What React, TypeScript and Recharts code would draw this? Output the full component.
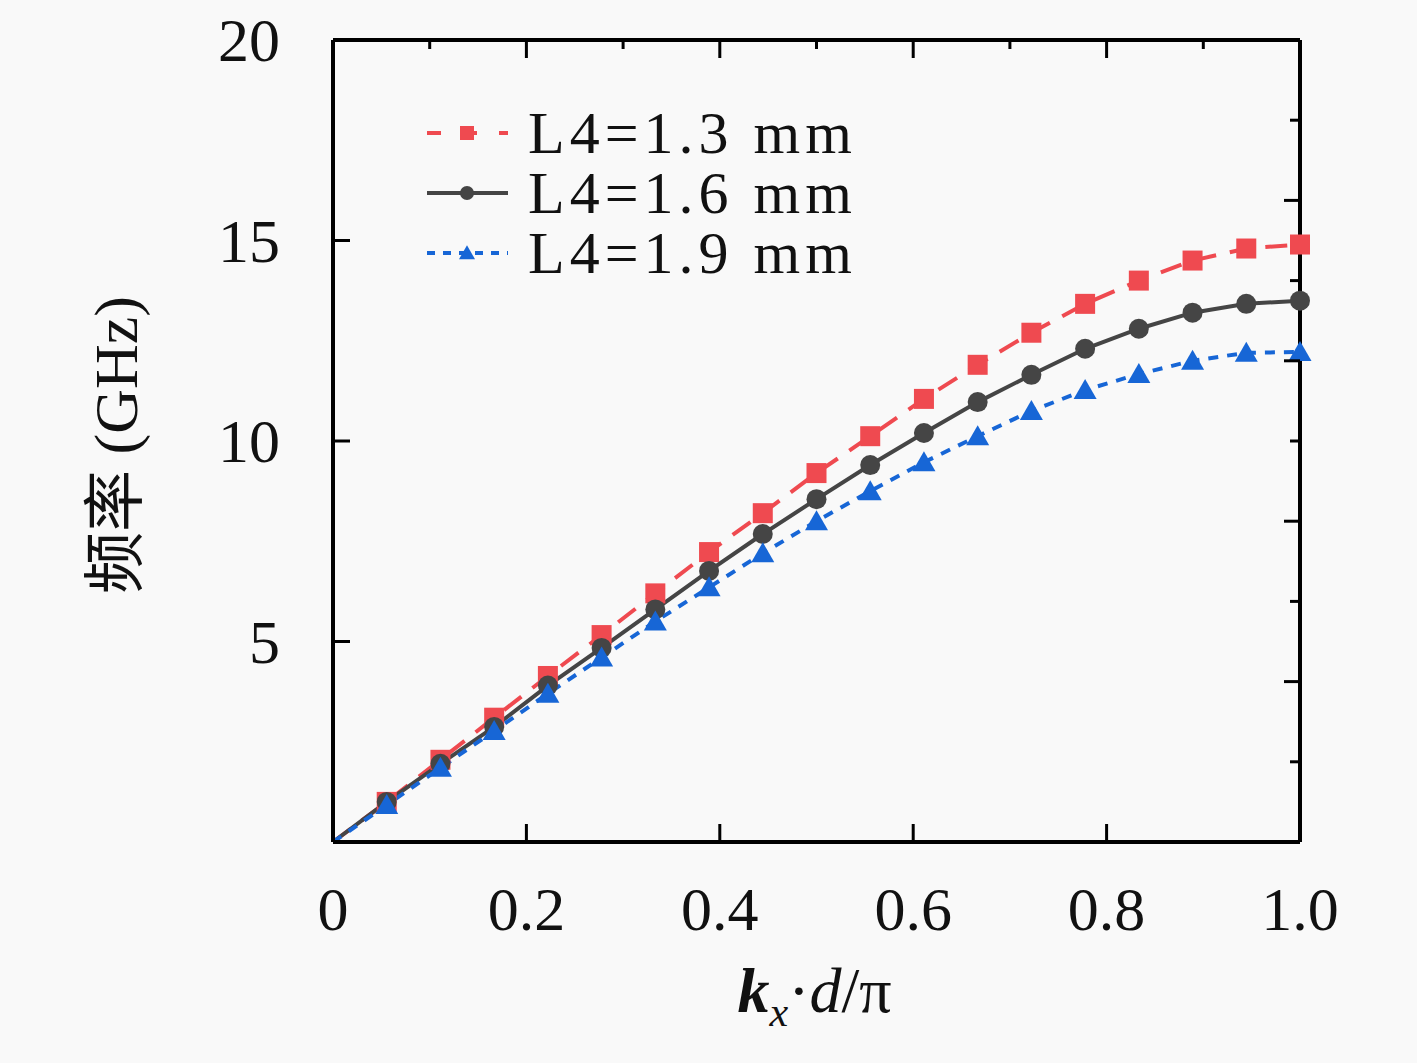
import { Line, LineChart, XAxis, YAxis } from "recharts";

// k_x d / pi sampled at 1/18 steps
const kx = [0, 1, 2, 3, 4, 5, 6, 7, 8, 9, 10, 11, 12, 13, 14, 15, 16, 17, 18].map((i) => i / 18);

const l13 = [0, 1.0, 2.05, 3.1, 4.14, 5.16, 6.2, 7.23, 8.2, 9.2, 10.12, 11.05, 11.9, 12.7, 13.42, 14.0, 14.5, 14.8, 14.9];
const l16 = [0, 1.0, 1.95, 2.87, 3.9, 4.84, 5.8, 6.76, 7.68, 8.55, 9.4, 10.2, 10.97, 11.65, 12.3, 12.8, 13.2, 13.42, 13.5];
const l19 = [0, 0.92, 1.85, 2.77, 3.7, 4.6, 5.5, 6.35, 7.2, 8.0, 8.75, 9.47, 10.12, 10.75, 11.27, 11.67, 12.0, 12.2, 12.22];

const xTicks = [0, 0.2, 0.4, 0.6, 0.8, 1.0];
const xTopTicks = [0.1, 0.2, 0.3, 0.4, 0.5, 0.6, 0.7, 0.8, 0.9];
const yTicks = [0, 5, 10, 15, 20];
const yRightTicks = [2, 4, 6, 8, 10, 12, 14, 16, 18];

const data = kx.map((x, i) => ({ x, a: l13[i], b: l16[i], c: l19[i] }));

const RED = "#ef4a50";
const GREY = "#454545";
const BLUE = "#1766d6";
const SERIF = "'Liberation Serif', 'DejaVu Serif', serif";

const series = [
  { key: "a", name: "L4=1.3 mm", color: RED, dash: "22 14", shape: "square" },
  { key: "b", name: "L4=1.6 mm", color: GREY, dash: undefined, shape: "circle" },
  { key: "c", name: "L4=1.9 mm", color: BLUE, dash: "10 9", shape: "triangle" },
];

const Marker = ({ shape, cx, cy, color, s }: any) => {
  if (shape === "square") return <rect x={cx - s} y={cy - s} width={s * 2} height={s * 2} fill={color} />;
  if (shape === "circle") return <circle cx={cx} cy={cy} r={s} fill={color} />;
  return <polygon points={`${cx},${cy - s * 1.1} ${cx - s * 1.15},${cy + s * 0.9} ${cx + s * 1.15},${cy + s * 0.9}`} fill={color} />;
};

const makeDot = (shape: string, color: string) => (props: any) => {
  const { cx, cy, index } = props;
  if (index === 0) return <g key={`d-${index}`} />;
  return (
    <g key={`d-${shape}-${index}`}>
      <Marker shape={shape} cx={cx} cy={cy} color={color} s={10} />
    </g>
  );
};

const fmtX = (v: number) => (v === 0 ? "0" : v.toFixed(1));

const BottomTick = (props: any) => {
  const { x, y, payload } = props;
  const v = payload.value;
  return (
    <g>
      {v > 0 && v < 1 && <line x1={x} x2={x} y1={y} y2={y - 18} stroke="#000" strokeWidth={3} />}
      <text x={x} y={y + 88} textAnchor="middle" fontFamily={SERIF} fontSize={62} fill="#111">
        {fmtX(v)}
      </text>
    </g>
  );
};

const TopTick = (props: any) => {
  const { x, y, payload } = props;
  const major = Math.round(payload.value * 10) % 2 === 0;
  return <line x1={x} x2={x} y1={y} y2={y + (major ? 18 : 9)} stroke="#000" strokeWidth={3} />;
};

const LeftTick = (props: any) => {
  const { x, y, payload } = props;
  const v = payload.value;
  return (
    <g>
      {v > 0 && v < 20 && <line x1={x} x2={x + 17} y1={y} y2={y} stroke="#000" strokeWidth={3} />}
      {v > 0 && (
        <text x={x - 53} y={y + 21} textAnchor="end" fontFamily={SERIF} fontSize={62} fill="#111">
          {v}
        </text>
      )}
    </g>
  );
};

const RightTick = (props: any) => {
  const { x, y, payload } = props;
  const major = payload.value % 4 === 0;
  return <line x1={x} x2={x - (major ? 16 : 10)} y1={y} y2={y} stroke="#000" strokeWidth={3} />;
};

const XTitle = (props: any) => {
  const { viewBox } = props;
  const cx = viewBox.x + viewBox.width / 2;
  return (
    <text x={cx - 2} y={viewBox.y + 170} textAnchor="middle" fontFamily={SERIF} fontSize={64} fill="#111">
      <tspan fontWeight="bold" fontStyle="italic">k</tspan>
      <tspan fontStyle="italic" fontSize={42} dy={14}>x</tspan>
      <tspan dy={-14}>·</tspan>
      <tspan fontStyle="italic">d</tspan>
      <tspan>/π</tspan>
    </text>
  );
};

const YTitle = () => (
  <text x={0} y={0} transform="translate(137 445) rotate(-90)" textAnchor="middle" fontSize={62} fill="#111">
    <tspan fontFamily="'Noto Sans CJK SC', sans-serif">频率</tspan>
    <tspan fontFamily={SERIF}> (GHz)</tspan>
  </text>
);

const Legend = () => (
  <div style={{ position: "absolute", left: 420, top: 103 }}>
    {series.map((s) => (
      <div key={s.key} style={{ display: "flex", alignItems: "center", height: 60 }}>
        <svg width={100} height={30}>
          <line
            x1={7}
            x2={88}
            y1={15}
            y2={15}
            stroke={s.color}
            strokeWidth={4}
            strokeDasharray={s.dash ? (s.shape === "square" ? "14 22" : "8 8") : undefined}
          />
          <Marker shape={s.shape} cx={47} cy={15} color={s.color} s={7} />
        </svg>
        <span style={{ fontFamily: SERIF, fontSize: 60, letterSpacing: 5, color: "#111", lineHeight: "56px", marginLeft: 8 }}>
          {s.name}
        </span>
      </div>
    ))}
  </div>
);

const axisLine = { stroke: "#000", strokeWidth: 4 };

export default function App() {
  return (
    <div style={{ position: "absolute", left: 0, top: 0, width: 1417, height: 1063, background: "#f9f9f9" }}>
      <LineChart width={1417} height={1063} data={data} margin={{ top: 39, right: 116, bottom: 220, left: 332 }}>
        <XAxis
          xAxisId="b"
          dataKey="x"
          type="number"
          domain={[0, 1]}
          ticks={xTicks}
          interval={0}
          height={1}
          tickSize={0}
          tickMargin={0}
          tick={BottomTick}
          axisLine={axisLine}
          label={<XTitle />}
        />
        <XAxis
          xAxisId="t"
          dataKey="x"
          orientation="top"
          type="number"
          domain={[0, 1]}
          ticks={xTopTicks}
          interval={0}
          height={1}
          tickSize={0}
          tickMargin={0}
          tick={TopTick}
          axisLine={axisLine}
        />
        <YAxis
          yAxisId="l"
          type="number"
          domain={[0, 20]}
          ticks={yTicks}
          interval={0}
          width={1}
          tickSize={0}
          tickMargin={0}
          tick={LeftTick}
          axisLine={axisLine}
          label={<YTitle />}
        />
        <YAxis
          yAxisId="r"
          orientation="right"
          type="number"
          domain={[0, 20]}
          ticks={yRightTicks}
          interval={0}
          width={1}
          tickSize={0}
          tickMargin={0}
          tick={RightTick}
          axisLine={axisLine}
        />
        {series.map((s) => (
          <Line
            key={s.key}
            xAxisId="b"
            yAxisId="l"
            dataKey={s.key}
            name={s.name}
            type="linear"
            stroke={s.color}
            strokeWidth={4}
            strokeDasharray={s.dash}
            dot={makeDot(s.shape, s.color)}
            activeDot={false}
            isAnimationActive={false}
          />
        ))}
        {/* invisible series so the mirrored top/right axes get a scale */}
        <Line
          xAxisId="t"
          yAxisId="r"
          dataKey="b"
          stroke="none"
          dot={false}
          activeDot={false}
          legendType="none"
          isAnimationActive={false}
        />
      </LineChart>
      <Legend />
    </div>
  );
}
